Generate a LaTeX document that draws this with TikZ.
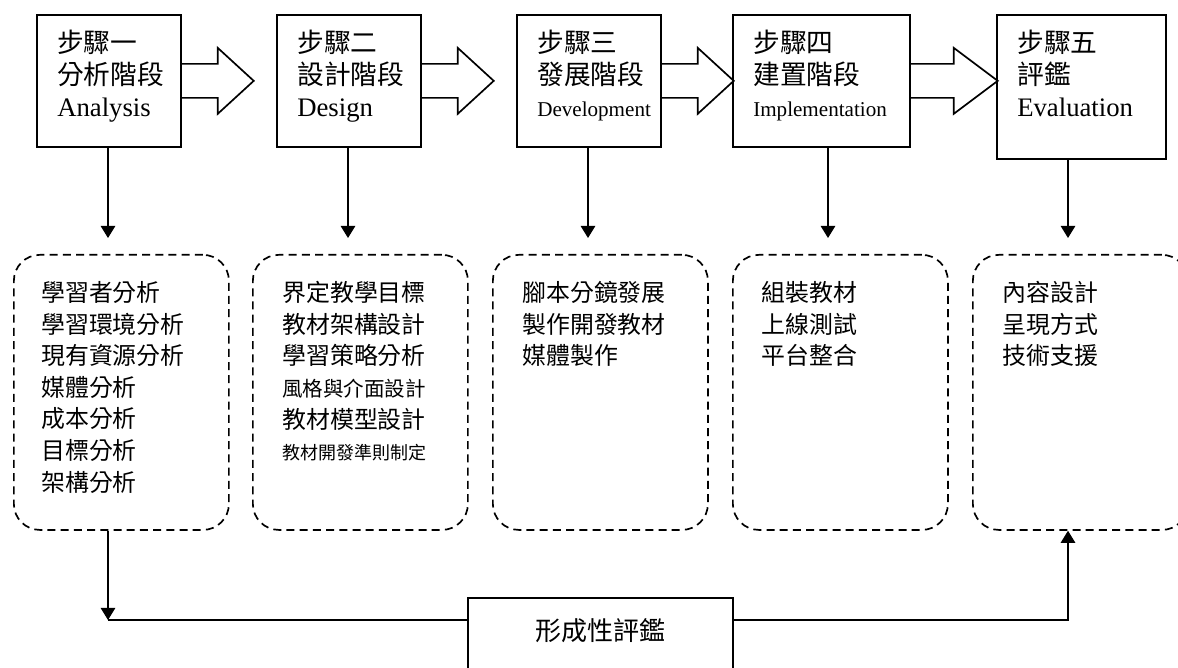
\documentclass[tikz,border=0pt]{standalone}
\usepackage{fontspec}
\setmainfont{Liberation Serif}
\newfontfamily\zhfont{Noto Sans CJK TC}
\usetikzlibrary{arrows.meta,calc}

\newcommand{\zh}[1]{{\zhfont #1}}
% block arrow from the east side of a stage box: #1 node, #2 shaft, #3 head
\newcommand{\stagearrow}[3]{%
  \draw[line width=1.2pt, line join=miter] ($(#1.east)+(0,-17)$) -- ++(#2,0) -- ++(0,-16)
    -- ++(#3,33) -- ++(-#3,33) -- ++(0,-16) -- ++(-#2,0);}

\tikzset{
  stagebox/.style={draw, line width=1.2pt, anchor=north west, inner sep=0pt, minimum height=3.3cm},
  stagetext/.style={anchor=north west, inner sep=0pt, align=left, font=\fontsize{19pt}{22.75pt}\selectfont},
  taskbox/.style={draw, line width=1.2pt, dash pattern=on 0.2cm off 0.13cm, rounded corners=0.65cm,
    anchor=north west, inner sep=0pt, minimum width=5.375cm, minimum height=6.875cm},
  tasktext/.style={anchor=north west, inner sep=0pt, align=left, font=\zhfont\fontsize{17pt}{22.5pt}\selectfont},
  arr/.style={line width=1pt, -{Triangle[length=0.3cm,width=0.36cm]}},
}

\begin{document}
\begin{tikzpicture}[x=0.025cm, y=-0.025cm]
  \useasboundingbox (0,0) rectangle (1178,668);

  % stages
  \node[stagebox, minimum width=3.6cm] (s1) at (36,14) {};
  \node[stagebox, minimum width=3.6cm] (s2) at (276,14) {};
  \node[stagebox, minimum width=3.6cm] (s3) at (516,14) {};
  \node[stagebox, minimum width=4.425cm] (s4) at (732,14) {};
  \node[stagebox, minimum width=4.225cm, minimum height=3.6cm] (s5) at (996,14) {};

  \node[stagetext] (t1) at ($(s1.north west)+(21,16)$) {\zh{步驟一}\\\zh{分析階段}\\Analysis};
  \node[stagetext] (t2) at ($(s2.north west)+(21,16)$) {\zh{步驟二}\\\zh{設計階段}\\Design};
  \node[stagetext] (t3) at ($(s3.north west)+(21,16)$) {\zh{步驟三}\\\zh{發展階段}\\{\fontsize{15pt}{22.75pt}\selectfont Development}};
  \node[stagetext] (t4) at ($(s4.north west)+(21,16)$) {\zh{步驟四}\\\zh{建置階段}\\{\fontsize{15pt}{22.75pt}\selectfont Implementation}};
  \node[stagetext] (t5) at ($(s5.north west)+(21,16)$) {\zh{步驟五}\\\zh{評鑑}\\Evaluation};

  \stagearrow{s1}{36}{36}
  \stagearrow{s2}{36}{36}
  \stagearrow{s3}{36}{36}
  \stagearrow{s4}{43}{44}

  % tasks of each stage
  \node[taskbox] (la) at (13,254) {};
  \node[taskbox] (lb) at (252,254) {};
  \node[taskbox] (lc) at (492,254) {};
  \node[taskbox] (ld) at (732,254) {};
  \node[taskbox] (le) at (972,254) {};

  \node[tasktext] (la text) at ($(la.north west)+(28,27)$)
    {學習者分析\\學習環境分析\\現有資源分析\\媒體分析\\成本分析\\目標分析\\架構分析};
  \node[tasktext] (lb text) at ($(lb.north west)+(30,27)$)
    {界定教學目標\\教材架構設計\\學習策略分析\\{\fontsize{14.6pt}{22.5pt}\selectfont 風格與介面設計}\\教材模型設計\\{\fontsize{12.8pt}{22.5pt}\selectfont 教材開發準則制定}};
  \node[tasktext] (lc text) at ($(lc.north west)+(30,27)$) {腳本分鏡發展\\製作開發教材\\媒體製作};
  \node[tasktext] (ld text) at ($(ld.north west)+(29,27)$) {組裝教材\\上線測試\\平台整合};
  \node[tasktext] (le text) at ($(le.north west)+(30,27)$) {內容設計\\呈現方式\\技術支援};

  \foreach \i/\x/\l in {1/108/la,2/348/lb,3/588/lc,4/828/ld,5/1068/le}{
    \coordinate (d\i) at (\l.north -| \x,0);
    \draw[arr] (s\i.south -| d\i) -- ($(d\i)+(0,-16)$);
  }

  % formative evaluation
  \node[draw, line width=1.2pt, anchor=north, inner sep=0pt, minimum width=6.625cm,
    text height=1.075cm, text depth=1.25cm, font=\zhfont\fontsize{18.5pt}{22pt}\selectfont]
    (form) at (600.5,597) {形成性評鑑};
  \coordinate (fl) at ($(form.north west)+(0,23)$);
  \coordinate (fr) at ($(form.north east)+(0,23)$);
  \coordinate (cl) at (108,620);
  \coordinate (cr) at (1068,620);

  \draw[arr] (la.south -| cl) -- (cl);
  \draw[line width=1.2pt] (cl) -- (fl);
  \draw[arr] (fr) -| (le.south -| cr);
\end{tikzpicture}
\end{document}
